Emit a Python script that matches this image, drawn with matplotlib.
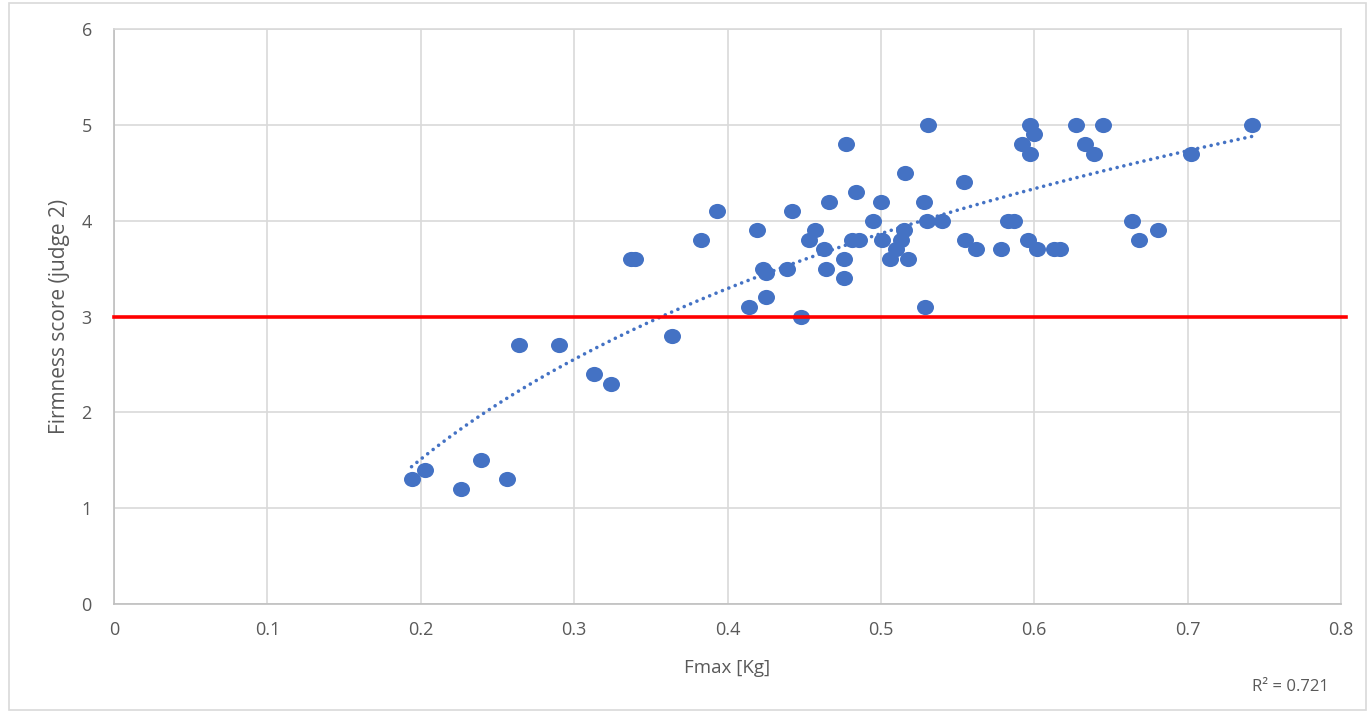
import numpy as np
import matplotlib.pyplot as plt
from matplotlib.patches import Rectangle
from matplotlib.path import Path

# Fmax [Kg] and judge 2 firmness scores
fmax = [0.194, 0.203, 0.226, 0.239, 0.256, 0.264, 0.290, 0.313, 0.324, 0.337,
        0.340, 0.364, 0.383, 0.393, 0.414, 0.419, 0.423, 0.425, 0.425, 0.439,
        0.442, 0.448, 0.453, 0.457, 0.463, 0.464, 0.466, 0.476, 0.476, 0.477,
        0.481, 0.486, 0.484, 0.495, 0.500, 0.501, 0.506, 0.510, 0.513, 0.515,
        0.518, 0.516, 0.531, 0.528, 0.530, 0.529, 0.540, 0.554, 0.555, 0.562,
        0.578, 0.583, 0.587, 0.597, 0.600, 0.592, 0.597, 0.596, 0.602, 0.613,
        0.617, 0.627, 0.645, 0.633, 0.639, 0.664, 0.668, 0.681, 0.702, 0.742]
score = [1.3, 1.4, 1.2, 1.5, 1.3, 2.7, 2.7, 2.4, 2.3, 3.6,
         3.6, 2.8, 3.8, 4.1, 3.1, 3.9, 3.5, 3.45, 3.2, 3.5,
         4.1, 3.0, 3.8, 3.9, 3.7, 3.5, 4.2, 3.6, 3.4, 4.8,
         3.8, 3.8, 4.3, 4.0, 4.2, 3.8, 3.6, 3.7, 3.8, 3.9,
         3.6, 4.5, 5.0, 4.2, 4.0, 3.1, 4.0, 4.4, 3.8, 3.7,
         3.7, 4.0, 4.0, 5.0, 4.9, 4.8, 4.7, 3.8, 3.7, 3.7,
         3.7, 5.0, 5.0, 4.8, 4.7, 4.0, 3.8, 3.9, 4.7, 5.0]
threshold = 3
r2_label = "R² = 0.721"

blue = "#4472C4"
grid_c = "#d9d9d9"
text_c = "#595959"

plt.rcParams['font.family'] = ['Open Sans', 'DejaVu Sans']

fig = plt.figure(figsize=(13.68, 7.12), dpi=100)
ax = fig.add_axes([114 / 1368, 108 / 712, 1227 / 1368, 575 / 712])

# outer chart frame
fig.patches.append(Rectangle((9 / 1368, 2 / 712), 1357 / 1368, 707 / 712,
                             transform=fig.transFigure, fill=False,
                             edgecolor=grid_c, linewidth=1.2))

# slightly wide round marker
circ = Path.unit_circle()
oval = Path(circ.vertices * [1.12, 1.0], circ.codes)
ax.scatter(fmax, score, s=150, color=blue, marker=oval, zorder=4, linewidths=0)

# logarithmic trendline
x = np.array(fmax)
y = np.array(score)
a, b = np.polyfit(np.log(x), y, 1)
xs = np.linspace(x.min(), x.max(), 200)
ax.plot(xs, a * np.log(xs) + b, color=blue, linestyle=(0, (0.01, 1.9)),
        linewidth=2.6, dash_capstyle='round', zorder=3)

ax.axhline(threshold, color="#ff0000", linewidth=2.6, zorder=5, clip_on=False,
           xmax=1.004)

ax.set_xlim(0, 0.8)
ax.set_ylim(0, 6)
ax.set_xticks(np.arange(0, 0.81, 0.1))
ax.set_xticklabels(["0", "0.1", "0.2", "0.3", "0.4", "0.5", "0.6", "0.7", "0.8"])
ax.set_yticks(range(7))
ax.grid(True, color=grid_c, linewidth=1.2)
ax.set_axisbelow(True)
for side in ["top", "right"]:
    ax.spines[side].set_color(grid_c)
for side in ["left", "bottom"]:
    ax.spines[side].set_color("#bfbfbf")
for sp in ax.spines.values():
    sp.set_linewidth(1.2)
ax.tick_params(length=0, labelsize=13, labelcolor=text_c)
ax.tick_params(axis='y', pad=16)
ax.tick_params(axis='x', pad=12)

ax.set_xlabel("Fmax [Kg]", fontsize=13.5, color=text_c)
ax.set_ylabel("Firmness score (judge 2)", fontsize=15, color=text_c)
ax.xaxis.set_label_coords(0.5, -(668 - 604) / 575, transform=ax.transAxes)
ax.xaxis.label.set_va('center')
ax.yaxis.set_label_coords(-(114 - 60) / 1227, 0.5, transform=ax.transAxes)
ax.yaxis.label.set_va('center')

fig.text(1290 / 1368, 1 - 687 / 712, r2_label, fontsize=12, color=text_c,
         ha='center', va='center')

fig.savefig("out.png", dpi=100)
